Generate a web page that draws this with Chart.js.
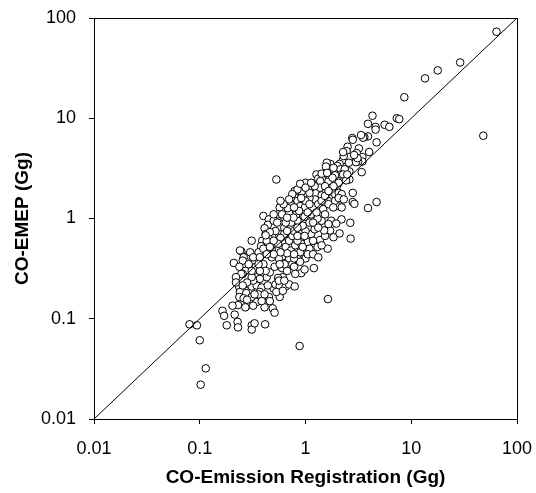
<!DOCTYPE html>
<html>
<head>
<meta charset="utf-8">
<script src="https://cdn.jsdelivr.net/npm/chart.js@4"></script>
<style>
    html, body { margin: 0; padding: 0; background: #fff; }
    #wrap { width: 536px; height: 493px; }
</style>
</head>
<body>
<div id="wrap"><canvas id="scatterChart" width="536" height="493"></canvas></div>
<script>
// Axis ticks (both axes are log, 0.01 .. 100)
const tickValues = [0.01, 0.1, 1, 10, 100];
const tickLabels = ['0.01', '0.1', '1', '10', '100'];

// CO-Emission Registration (Gg)
const registration = [
    64, 29, 17.8, 13.5, 8.6, 7.3, 7.7, 5.6, 6.2, 4.3,
    3.9, 4.6, 4.6, 3.9, 3.6, 3.5, 4.7, 48, 2.77, 2.8,
    3.2, 3.05, 4.0, 2.5, 2.45, 2.6, 3.45, 3.45, 3.15, 3.0,
    3.4, 2.25, 2.1, 2.0, 1.72, 1.59, 2.6, 2.14, 2.17, 2.6,
    1.75, 1.56, 1.27, 1.32, 1.38, 1.65, 1.9, 1.0, 0.92, 1.11,
    1.68, 1.98, 1.46, 1.42, 1.66, 2.06, 2.8, 2.8, 2.9, 4.7,
    3.9, 2.06, 2.0, 1.9, 1.63, 1.23, 1.09, 0.80, 0.79, 0.81,
    0.84, 0.73, 0.75, 0.635, 0.57, 0.55, 0.63, 0.40, 0.45, 0.44,
    0.41, 0.42, 0.45, 0.39, 0.31, 0.44, 0.38, 0.36, 0.247, 0.29,
    0.26, 0.30, 0.33, 0.21, 0.34, 0.27, 0.255, 0.35, 0.29, 0.235,
    0.24, 0.237, 0.31, 0.345, 0.385, 0.37, 0.345, 0.28, 0.27, 0.23,
    0.204, 0.164, 0.17, 0.18, 0.214, 0.228, 0.23, 0.31, 0.31, 0.33,
    0.415, 0.41, 0.49, 0.51, 0.45, 0.57, 0.50, 0.52, 0.57, 0.44,
    0.43, 0.46, 0.51, 0.60, 0.61, 0.55, 0.61, 0.56, 0.535, 0.60,
    0.65, 0.70, 0.75, 0.78, 0.87, 0.91, 0.73, 0.70, 0.75, 0.84,
    0.89, 1.0, 1.0, 0.91, 1.2, 0.78, 0.67, 1.05, 1.13, 1.22,
    1.37, 1.53, 1.62, 1.71, 1.84, 2.1, 1.75, 2.19, 1.42, 1.3,
    1.09, 1.13, 0.98, 0.84, 0.82, 0.73, 0.63, 0.56, 0.52, 0.46,
    0.50, 0.54, 0.60, 0.70, 0.68, 0.89, 0.99, 1.0, 0.91, 1.32,
    1.47, 1.65, 1.53, 1.27, 1.37, 1.22, 1.53, 1.62, 1.8, 2.35,
    2.27, 2.42, 2.48, 0.84, 0.89, 0.75, 0.50, 0.43, 0.40, 0.48,
    0.48, 0.40, 0.42, 0.37, 0.37, 0.32, 0.31, 0.28, 0.275, 0.31,
    0.36, 0.41, 0.385, 0.32, 0.53, 0.56, 0.67, 0.635, 0.57, 0.80,
    0.91, 0.84, 1.0, 0.94, 1.18, 1.09, 1.30, 1.42, 1.5, 1.65,
    1.95, 1.05, 0.89, 0.78, 0.80, 0.65, 0.70, 0.61, 1.09, 1.0,
    1.13, 1.42, 1.6, 2.3, 2.27, 3.1, 3.35, 2.06, 1.84, 2.2,
    2.06, 2.3, 1.83, 1.42, 0.24, 0.255, 0.237, 0.247, 0.22, 0.255,
    0.26, 0.28, 0.63, 0.67, 0.58, 0.77, 0.65, 0.87, 0.78, 1.05,
    1.18, 1.32, 0.70, 0.62, 0.84, 0.55, 0.50, 0.46, 0.58, 0.94,
    0.78, 0.98, 1.63, 0.88, 0.53, 0.79, 0.114, 0.102, 0.1, 0.080,
    0.094, 2.65, 2.67, 0.42, 0.50, 0.32, 0.36, 0.67, 0.58, 1.53,
    2.2, 1.18, 1.32, 0.98, 0.43, 0.37, 0.29, 0.31, 0.22, 0.33,
    0.46, 0.63, 0.84, 1.09, 1.65, 2.57, 2.88, 1.84
];

// CO-EMEP (Gg), same order as registration
const emep = [
    73, 36, 30, 25, 16.2, 10.0, 9.8, 8.6, 8.2, 10.6,
    8.8, 8.2, 7.7, 6.6, 6.5, 6.4, 5.75, 6.7, 6.35, 6.1,
    5.0, 4.5, 4.6, 5.2, 4.7, 4.1, 4.1, 3.7, 3.7, 3.65,
    2.9, 3.8, 3.5, 3.35, 3.5, 3.6, 2.95, 3.1, 2.75, 2.45,
    3.1, 3.3, 2.75, 2.5, 2.36, 2.36, 2.7, 2.27, 1.85, 2.0,
    2.0, 2.1, 1.85, 1.7, 1.6, 1.8, 1.8, 1.46, 1.4, 1.46,
    1.27, 1.39, 1.33, 1.5, 1.5, 1.55, 1.6, 1.8, 1.88, 1.6,
    1.5, 1.36, 1.24, 1.21, 1.29, 1.1, 1.02, 1.06, 0.98, 0.865,
    0.80, 0.70, 0.63, 0.60, 0.60, 0.57, 0.53, 0.46, 0.47, 0.43,
    0.41, 0.46, 0.37, 0.36, 0.33, 0.30, 0.28, 0.26, 0.22, 0.21,
    0.185, 0.165, 0.21, 0.215, 0.205, 0.185, 0.147, 0.135, 0.13, 0.137,
    0.135, 0.12, 0.107, 0.086, 0.11, 0.093, 0.082, 0.086, 0.078, 0.09,
    0.088, 0.13, 0.127, 0.115, 0.165, 0.165, 0.2, 0.22, 0.21, 0.215,
    0.26, 0.29, 0.33, 0.32, 0.26, 0.255, 0.42, 0.40, 0.485, 0.58,
    0.52, 0.60, 0.67, 0.75, 0.77, 0.70, 0.48, 0.40, 0.35, 0.40,
    0.46, 0.52, 0.40, 0.285, 0.32, 0.33, 0.30, 0.58, 0.70, 0.78,
    0.61, 0.67, 0.50, 0.76, 0.65, 0.71, 0.95, 0.98, 0.95, 1.0,
    0.91, 1.1, 1.04, 0.95, 1.1, 0.91, 0.81, 0.70, 0.75, 0.73,
    0.95, 0.91, 1.1, 1.12, 1.27, 1.33, 1.3, 1.5, 1.6, 1.39,
    1.24, 1.39, 1.1, 1.15, 2.03, 2.1, 2.1, 2.75, 2.55, 3.1,
    2.75, 2.4, 2.75, 1.95, 2.22, 1.75, 1.1, 0.60, 0.50, 0.485,
    0.41, 0.35, 0.30, 0.30, 0.25, 0.24, 0.26, 0.23, 0.18, 0.165,
    0.175, 0.175, 0.15, 0.135, 0.185, 0.24, 0.45, 0.35, 0.35, 0.54,
    0.56, 0.60, 0.75, 0.85, 0.60, 0.50, 0.52, 0.54, 0.76, 0.88,
    0.89, 0.44, 0.37, 0.40, 0.28, 0.21, 0.22, 0.19, 1.8, 2.03,
    2.27, 2.8, 2.85, 4.2, 4.6, 4.0, 6.8, 2.27, 2.1, 1.75,
    1.6, 1.55, 1.29, 1.5, 0.48, 0.38, 0.33, 0.28, 0.26, 0.215,
    0.16, 0.155, 0.70, 0.75, 0.64, 1.02, 0.91, 1.19, 1.29, 1.15,
    0.91, 0.81, 1.55, 1.39, 0.67, 0.56, 0.60, 0.52, 0.46, 0.52,
    0.44, 0.67, 0.157, 0.0535, 2.45, 0.21, 0.032, 0.022, 0.061, 0.088,
    0.086, 0.906, 0.63, 0.68, 0.44, 0.41, 0.35, 1.02, 1.5, 1.68,
    1.29, 0.44, 0.41, 0.31, 0.44, 0.41, 0.35, 0.30, 0.23, 0.175,
    0.15, 0.24, 0.81, 1.39, 1.88, 3.6, 4.3, 3.2
];

// 1:1 line end points
const lineX = [0.01, 100];
const lineY = [0.01, 100];

const FONT = '"Liberation Sans", Arial, sans-serif';

// full box round the plot area (top and right edges too)
const frameBox = {
    id: 'frameBox',
    afterDraw(chart) {
        const { ctx, chartArea: a } = chart;
        ctx.save();
        ctx.strokeStyle = '#000';
        ctx.lineWidth = 1;
        ctx.strokeRect(Math.round(a.left) + 0.5, Math.round(a.top) + 0.5,
            Math.round(a.right - a.left), Math.round(a.bottom - a.top));
        ctx.restore();
    }
};

function logAxis(position, title, size, tickPad, titlePad) {
    return {
        type: 'logarithmic',
        position: position,
        min: 0.01,
        max: 100,
        afterBuildTicks: scale => {
            scale.ticks = tickValues.map(v => ({ value: v }));
        },
        afterFit: scale => {
            // fixed box size, and no extra room for the end labels
            if (position === 'bottom') scale.height = size;
            else scale.width = size;
            scale.paddingLeft = 0;
            scale.paddingRight = 0;
            scale.paddingTop = 0;
            scale.paddingBottom = 0;
        },
        grid: {
            display: true,
            drawOnChartArea: false,
            drawTicks: true,
            tickLength: 5,
            color: '#000',
            lineWidth: 1
        },
        border: { display: true, color: '#000', width: 1 },
        ticks: {
            color: '#000',
            font: { family: FONT, size: 18 },
            padding: tickPad,
            autoSkip: false,
            maxRotation: 0,
            callback: (v) => {
                const i = tickValues.indexOf(v);
                return i >= 0 ? tickLabels[i] : '';
            }
        },
        title: {
            display: true,
            text: title,
            color: '#000',
            font: { family: FONT, size: 19, weight: 'bold' },
            padding: titlePad
        }
    };
}

const ctx = document.getElementById('scatterChart').getContext('2d');

new Chart(ctx, {
    type: 'scatter',
    data: {
        datasets: [
            {
                label: '1:1',
                data: lineX.map((x, i) => ({ x: x, y: lineY[i] })),
                showLine: true,
                borderColor: '#000',
                borderWidth: 1,
                pointRadius: 0,
                order: 1
            },
            {
                label: 'CO',
                data: registration.map((x, i) => ({ x: x, y: emep[i] })),
                pointRadius: 3.8,
                pointBorderWidth: 1,
                pointBorderColor: '#000',
                pointBackgroundColor: '#fff',
                order: 2
            }
        ]
    },
    options: {
        responsive: false,
        animation: false,
        layout: { padding: { left: 4, right: 19, top: 18, bottom: 0 } },
        plugins: {
            legend: { display: false },
            tooltip: { enabled: false }
        },
        scales: {
            x: logAxis('bottom', 'CO-Emission Registration (Gg)', 74, 14, { top: 4, bottom: 4 }),
            y: logAxis('left', 'CO-EMEP (Gg)', 90, 13, { top: 7, bottom: 4 })
        }
    },
    plugins: [frameBox]
});
</script>
</body>
</html>
